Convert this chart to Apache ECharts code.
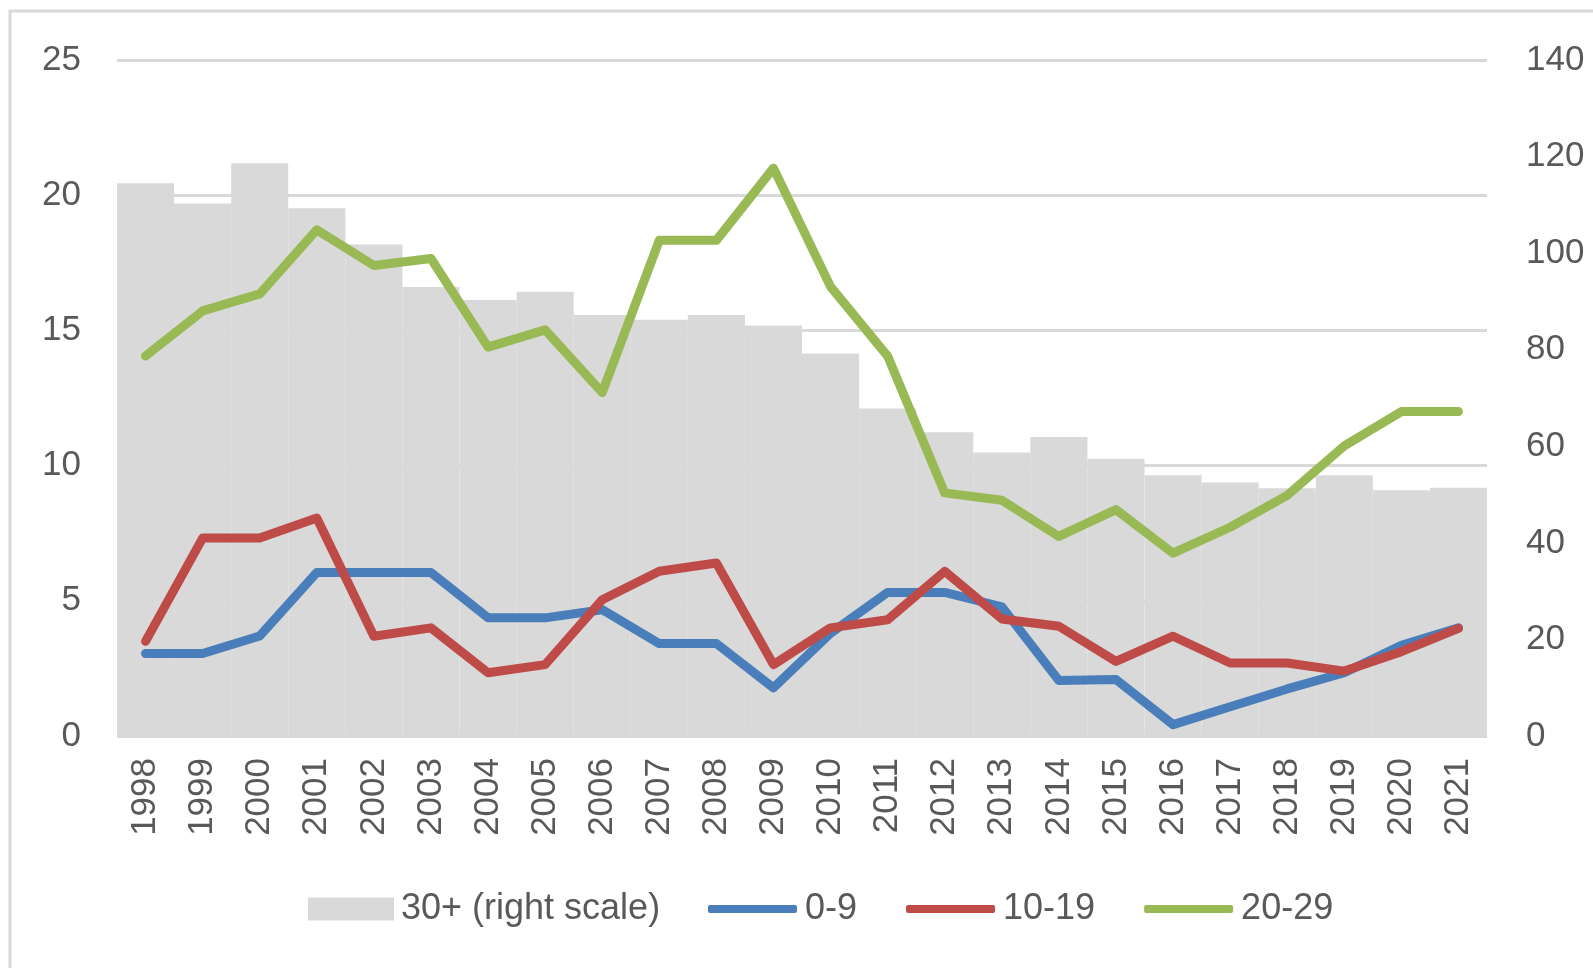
<!DOCTYPE html>
<html>
<head>
<meta charset="utf-8">
<script src="https://cdn.jsdelivr.net/npm/echarts@6/dist/echarts.min.js"></script>
<style>
html,body{margin:0;padding:0;background:#fff;}
#chart{width:1593px;height:968px;}
</style>
</head>
<body>
<div id="chart"></div>
<script>
const years = ['1998','1999','2000','2001','2002','2003','2004','2005','2006','2007','2008','2009','2010','2011','2012','2013','2014','2015','2016','2017','2018','2019','2020','2021'];
const age30plus = [114.5,110.3,118.6,109.3,101.8,93.0,90.3,92.0,87.2,86.2,87.2,85.0,79.2,67.8,62.9,58.7,61.9,57.4,54.0,52.5,51.3,54.0,50.9,51.4];
const age0_9 = [3.05,3.05,3.7,6.05,6.05,6.05,4.37,4.37,4.67,3.42,3.42,1.78,3.8,5.31,5.31,4.78,2.05,2.09,0.42,1.08,1.74,2.34,3.35,4.0];
const age10_19 = [3.5,7.32,7.32,8.06,3.69,4.0,2.34,2.64,5.04,6.09,6.4,2.64,4.0,4.3,6.09,4.33,4.06,2.76,3.69,2.7,2.7,2.4,3.12,3.98];
const age20_29 = [14.05,15.72,16.35,18.72,17.4,17.66,14.38,15.02,12.7,18.33,18.33,21.0,16.62,14.05,8.99,8.72,7.38,8.37,6.76,7.72,8.9,10.73,12.0,12.0];
const leftTicks = {min:0, max:25, interval:5};
const rightTicks = {min:0, max:140, interval:20};

const FONT = 'Liberation Sans';
const TXT = '#595959';
const LW = 9;
const chart = echarts.init(document.getElementById('chart'));
chart.setOption({
  animation:false,
  backgroundColor:'#ffffff',
  textStyle:{fontFamily:FONT},
  graphic:[{type:'rect',shape:{x:10,y:11,width:1600,height:970},style:{fill:'none',stroke:'#D9D9D9',lineWidth:3},silent:true,z:-10}],
  grid:{left:117,right:106,top:60,bottom:232,containLabel:false},
  legend:[
    {
      left:303, top:886,
      itemWidth:86, itemHeight:23,
      textStyle:{fontFamily:FONT,fontSize:36,color:TXT,padding:[0,0,0,2]},
      data:[{name:'30+ (right scale)', icon:'rect'}]
    },
    {
      left:703, top:886,
      itemGap:49, itemWidth:89, itemHeight:8,
      textStyle:{fontFamily:FONT,fontSize:36,color:TXT,padding:[0,0,0,3]},
      data:[{name:'0-9', icon:'roundRect'},{name:'10-19', icon:'roundRect'},{name:'20-29', icon:'roundRect'}]
    }
  ],
  xAxis:{
    type:'category', data:years,
    axisLine:{show:false}, axisTick:{show:false},
    axisLabel:{rotate:90, margin:22, fontSize:35, color:TXT, fontFamily:FONT}
  },
  yAxis:[
    {type:'value', min:leftTicks.min, max:leftTicks.max, interval:leftTicks.interval,
     axisLine:{show:false}, axisTick:{show:false},
     axisLabel:{fontSize:35, color:TXT, margin:36, fontFamily:FONT},
     splitLine:{show:true, lineStyle:{color:'#D9D9D9', width:3}}},
    {type:'value', min:rightTicks.min, max:rightTicks.max, interval:rightTicks.interval,
     axisLine:{show:false}, axisTick:{show:false},
     axisLabel:{fontSize:35, color:TXT, margin:39, fontFamily:FONT},
     splitLine:{show:false}}
  ],
  series:[
    {name:'30+ (right scale)', type:'bar', yAxisIndex:1, data:age30plus,
     barCategoryGap:'0%', itemStyle:{color:'#D9D9D9'}, z:1},
    {name:'0-9', type:'line', data:age0_9, symbol:'none', z:3,
     lineStyle:{color:'#4A7EBB', width:LW, cap:'round', join:'round'}, itemStyle:{color:'#4A7EBB'}},
    {name:'10-19', type:'line', data:age10_19, symbol:'none', z:4,
     lineStyle:{color:'#BE4B48', width:LW, cap:'round', join:'round'}, itemStyle:{color:'#BE4B48'}},
    {name:'20-29', type:'line', data:age20_29, symbol:'none', z:5,
     lineStyle:{color:'#98B954', width:LW, cap:'round', join:'round'}, itemStyle:{color:'#98B954'}}
  ]
});
</script>
</body>
</html>
